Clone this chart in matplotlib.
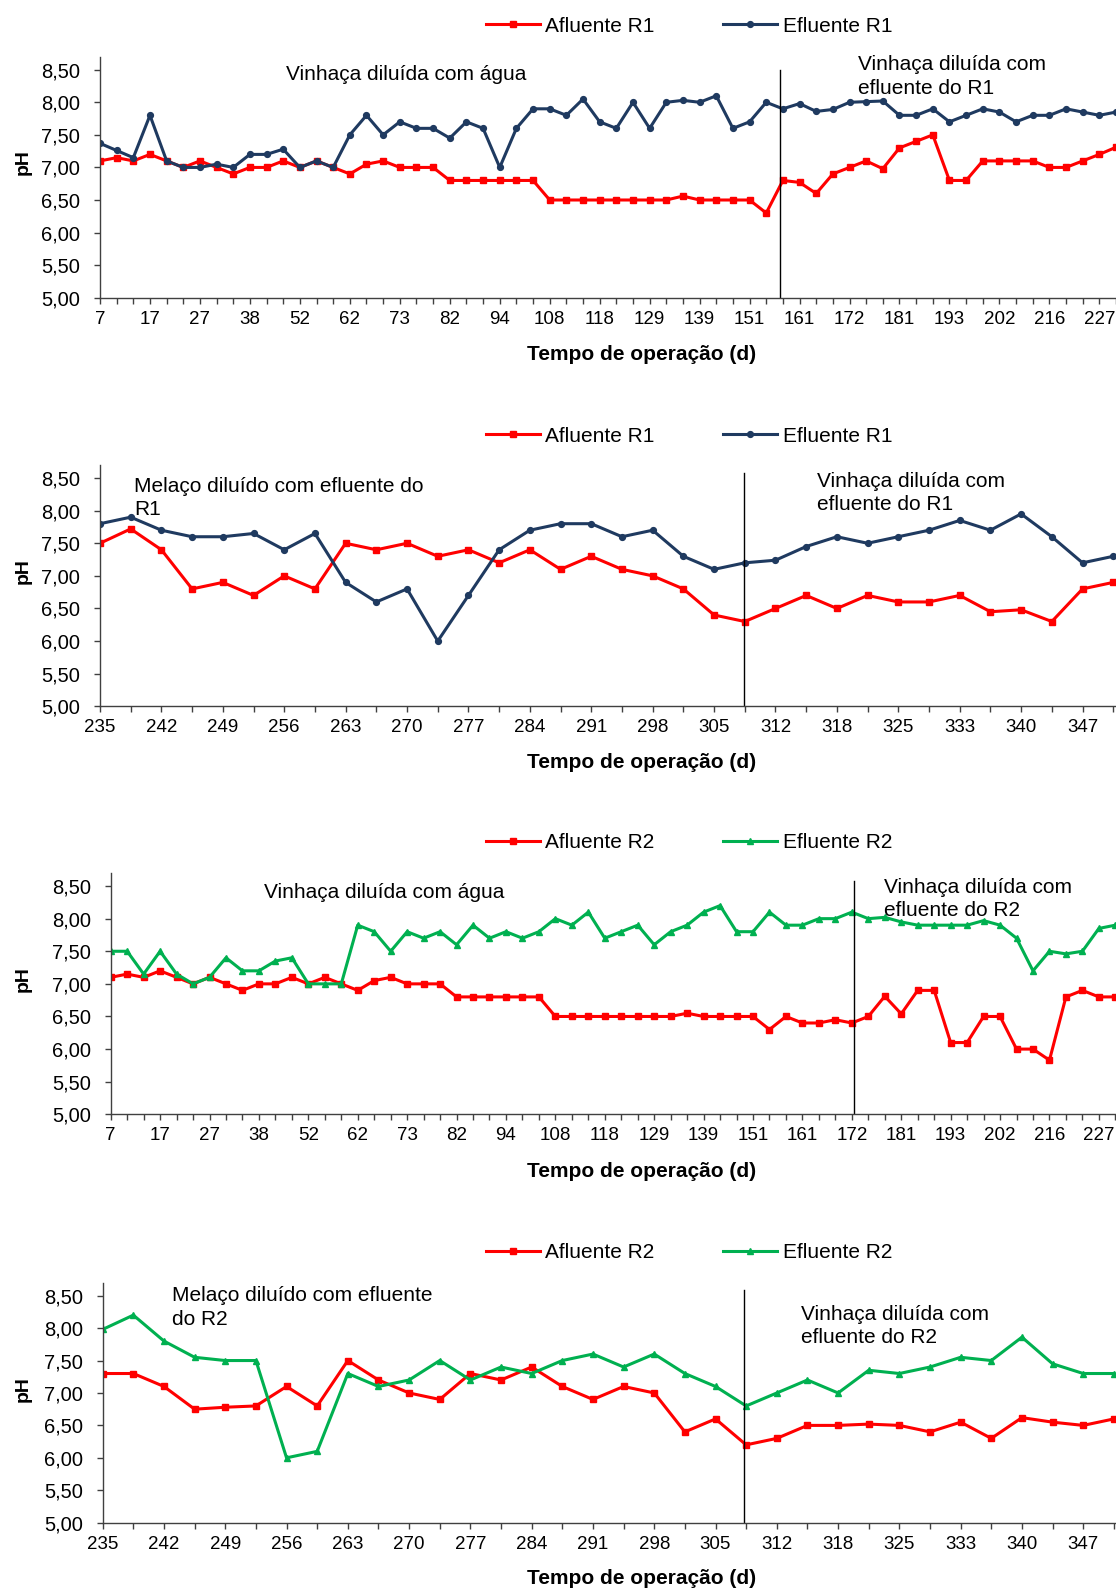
import matplotlib
matplotlib.use('Agg')
import matplotlib.pyplot as plt
from matplotlib.ticker import FuncFormatter, MultipleLocator

plt.rcParams['font.family'] = ['Liberation Sans', 'DejaVu Sans']

# tick labels (only every 3rd category is labelled in the R1/R2 first period)
days_p1 = ['7', '17', '27', '38', '52', '62', '73', '82', '94', '108', '118',
           '129', '139', '151', '161', '172', '181', '193', '202', '216', '227']
days_p2 = ['235', '242', '249', '256', '263', '270', '277', '284', '291',
           '298', '305', '312', '318', '325', '333', '340', '347']

# R1, days 7-227
afl_r1_p1 = [7.10, 7.15, 7.10, 7.20, 7.10, 7.00, 7.10, 7.00, 6.90, 7.00,
             7.00, 7.10, 7.00, 7.10, 7.00, 6.90, 7.05, 7.10, 7.00, 7.00,
             7.00, 6.80, 6.80, 6.80, 6.80, 6.80, 6.80, 6.50, 6.50, 6.50,
             6.50, 6.50, 6.50, 6.50, 6.50, 6.56, 6.50, 6.50, 6.50, 6.50,
             6.30, 6.80, 6.77, 6.60, 6.90, 7.00, 7.10, 6.98, 7.30, 7.40,
             7.50, 6.80, 6.80, 7.10, 7.10, 7.10, 7.10, 7.00, 7.00, 7.10,
             7.20, 7.31]
ef_r1_p1 = [7.37, 7.26, 7.15, 7.80, 7.10, 7.00, 7.00, 7.05, 7.00, 7.20,
            7.20, 7.28, 7.00, 7.10, 7.00, 7.50, 7.80, 7.50, 7.70, 7.60,
            7.60, 7.45, 7.70, 7.60, 7.00, 7.60, 7.90, 7.90, 7.80, 8.05,
            7.70, 7.60, 8.00, 7.60, 8.00, 8.03, 8.00, 8.10, 7.60, 7.70,
            8.00, 7.90, 7.98, 7.86, 7.89, 8.00, 8.01, 8.02, 7.80, 7.80,
            7.90, 7.70, 7.80, 7.90, 7.85, 7.70, 7.80, 7.80, 7.90, 7.85,
            7.80, 7.85]

# R1, days 235-350
afl_r1_p2 = [7.50, 7.72, 7.40, 6.80, 6.90, 6.70, 7.00, 6.80, 7.50, 7.40,
             7.50, 7.30, 7.40, 7.20, 7.40, 7.10, 7.30, 7.10, 7.00, 6.80,
             6.40, 6.30, 6.50, 6.70, 6.50, 6.70, 6.60, 6.60, 6.70, 6.45,
             6.48, 6.30, 6.80, 6.90]
ef_r1_p2 = [7.80, 7.90, 7.70, 7.60, 7.60, 7.65, 7.40, 7.65, 6.90, 6.60,
            6.80, 6.00, 6.70, 7.40, 7.70, 7.80, 7.80, 7.60, 7.70, 7.30,
            7.10, 7.20, 7.24, 7.45, 7.60, 7.50, 7.60, 7.70, 7.85, 7.70,
            7.95, 7.60, 7.20, 7.30]

# R2, days 7-227
afl_r2_p1 = [7.10, 7.15, 7.10, 7.20, 7.10, 7.00, 7.10, 7.00, 6.90, 7.00,
             7.00, 7.10, 7.00, 7.10, 7.00, 6.90, 7.05, 7.10, 7.00, 7.00,
             7.00, 6.80, 6.80, 6.80, 6.80, 6.80, 6.80, 6.50, 6.50, 6.50,
             6.50, 6.50, 6.50, 6.50, 6.50, 6.55, 6.50, 6.50, 6.50, 6.50,
             6.30, 6.50, 6.40, 6.40, 6.45, 6.40, 6.50, 6.81, 6.54, 6.90,
             6.90, 6.10, 6.10, 6.50, 6.50, 6.00, 6.00, 5.83, 6.80, 6.90,
             6.80, 6.80]
ef_r2_p1 = [7.50, 7.50, 7.15, 7.50, 7.15, 7.00, 7.10, 7.40, 7.20, 7.20,
            7.35, 7.40, 7.00, 7.00, 7.00, 7.90, 7.80, 7.50, 7.80, 7.70,
            7.80, 7.60, 7.90, 7.70, 7.80, 7.70, 7.80, 8.00, 7.90, 8.10,
            7.70, 7.80, 7.90, 7.60, 7.80, 7.90, 8.10, 8.20, 7.80, 7.80,
            8.10, 7.90, 7.90, 8.00, 8.00, 8.10, 8.00, 8.02, 7.95, 7.90,
            7.90, 7.90, 7.90, 7.97, 7.90, 7.70, 7.20, 7.50, 7.46, 7.50,
            7.85, 7.90]

# R2, days 235-350
afl_r2_p2 = [7.30, 7.30, 7.10, 6.75, 6.78, 6.80, 7.10, 6.80, 7.50, 7.20,
             7.00, 6.90, 7.30, 7.20, 7.40, 7.10, 6.90, 7.10, 7.00, 6.40,
             6.60, 6.20, 6.30, 6.50, 6.50, 6.52, 6.50, 6.40, 6.55, 6.30,
             6.62, 6.55, 6.50, 6.60]
ef_r2_p2 = [7.98, 8.20, 7.80, 7.55, 7.50, 7.50, 6.00, 6.10, 7.30, 7.10,
            7.20, 7.50, 7.20, 7.40, 7.30, 7.50, 7.60, 7.40, 7.60, 7.30,
            7.10, 6.80, 7.00, 7.20, 7.00, 7.35, 7.30, 7.40, 7.55, 7.50,
            7.86, 7.45, 7.30, 7.30]

W, H = 1116, 1589
RED = '#FF0000'
BLUE = '#1F3A60'
GREEN = '#00B050'

fig = plt.figure(figsize=(W / 100, H / 100), dpi=100)


def rect(left, top, right, bottom):
    return [left / W, 1 - bottom / H, (right - left) / W, (bottom - top) / H]


def ftext(x, y, s, **kw):
    fig.text(x / W, 1 - y / H, s, **kw)


panels = [
    dict(box=(100, 56.7, 1116, 297.7), xmax=60.95, labels=days_p1, step=3,
         afl=afl_r1_p1, ef=ef_r1_p1, col=BLUE, mk='o', ms=4.2, r='R1',
         switch=40.85, vtop=8.49, ly=26, xl=355, yl=162,
         notes=[(286, 75, 'Vinhaça diluída com água'),
                (858, 76.5, 'Vinhaça diluída com\nefluente do R1')]),
    dict(box=(100, 465, 1116, 706.3), xmax=33.09, labels=days_p2, step=2,
         afl=afl_r1_p2, ef=ef_r1_p2, col=BLUE, mk='o', ms=4.2, r='R1',
         switch=20.97, vtop=8.58, ly=436, xl=762, yl=571.5,
         notes=[(134, 498, 'Melaço diluído com efluente do\nR1'),
                (817, 493, 'Vinhaça diluída com\nefluente do R1')]),
    dict(box=(110.7, 873, 1116, 1114.3), xmax=61.04, labels=days_p1, step=3,
         afl=afl_r2_p1, ef=ef_r2_p1, col=GREEN, mk='^', ms=4.6, r='R2',
         switch=45.15, vtop=8.58, ly=843, xl=1171.5, yl=979,
         notes=[(263.5, 893, 'Vinhaça diluída com água'),
                (884, 899, 'Vinhaça diluída com\nefluente do R2')]),
    dict(box=(102.7, 1282.7, 1116, 1522.7), xmax=33.07, labels=days_p2, step=2,
         afl=afl_r2_p2, ef=ef_r2_p2, col=GREEN, mk='^', ms=4.6, r='R2',
         switch=20.93, vtop=8.58, ly=1252.5, xl=1579, yl=1389,
         notes=[(172, 1307.5, 'Melaço diluído com efluente\ndo R2'),
                (800.6, 1326, 'Vinhaça diluída com\nefluente do R2')]),
]

for p in panels:
    ax = fig.add_axes(rect(*p['box']))
    x = list(range(len(p['afl'])))
    l1, = ax.plot(x, p['afl'], color=RED, lw=2.2, marker='s', ms=4.6,
                  label='Afluente ' + p['r'])
    l2, = ax.plot(x, p['ef'], color=p['col'], lw=2.2, marker=p['mk'],
                  ms=p['ms'], label='Efluente ' + p['r'])
    ax.plot([p['switch'], p['switch']], [5.0, p['vtop']], color='black', lw=1.0)

    ax.set_xlim(0, p['xmax'])
    ax.set_ylim(5.0, 8.7)
    ax.yaxis.set_major_locator(MultipleLocator(0.5))
    ax.yaxis.set_major_formatter(FuncFormatter(lambda v, pos: f'{v:.2f}'.replace('.', ',')))

    n_lab = len(p['labels'])
    ax.set_xticks(range(0, n_lab * p['step'], p['step']))
    ax.set_xticklabels(p['labels'])
    ax.set_xticks(range(0, len(x)), minor=True)

    for side in ['top', 'right']:
        ax.spines[side].set_visible(False)
    for side in ['left', 'bottom']:
        ax.spines[side].set_color('#404040')
        ax.spines[side].set_linewidth(1.0)
    ax.tick_params(axis='both', which='both', direction='out', length=4.3,
                   width=1.0, color='#404040')
    ax.tick_params(axis='y', pad=10, labelsize=14.5)
    ax.tick_params(axis='x', pad=5, labelsize=13.5)

    fig.legend(handles=[l1, l2], loc='center', bbox_to_anchor=(689 / W, 1 - p['ly'] / H),
               ncol=2, frameon=False, fontsize=15, handlelength=2.6,
               handletextpad=0.25, columnspacing=3.3, numpoints=1)

    ftext(642, p['xl'], 'Tempo de operação (d)', fontsize=15, fontweight='bold',
          ha='center', va='center')
    ftext(23.5, p['yl'], 'pH', fontsize=14, fontweight='bold', rotation=90,
          ha='center', va='center')
    for nx, ny, s in p['notes']:
        ftext(nx, ny, s, fontsize=15, ha='left', va='center', linespacing=1.28)

fig.savefig('out.png', dpi=100)
